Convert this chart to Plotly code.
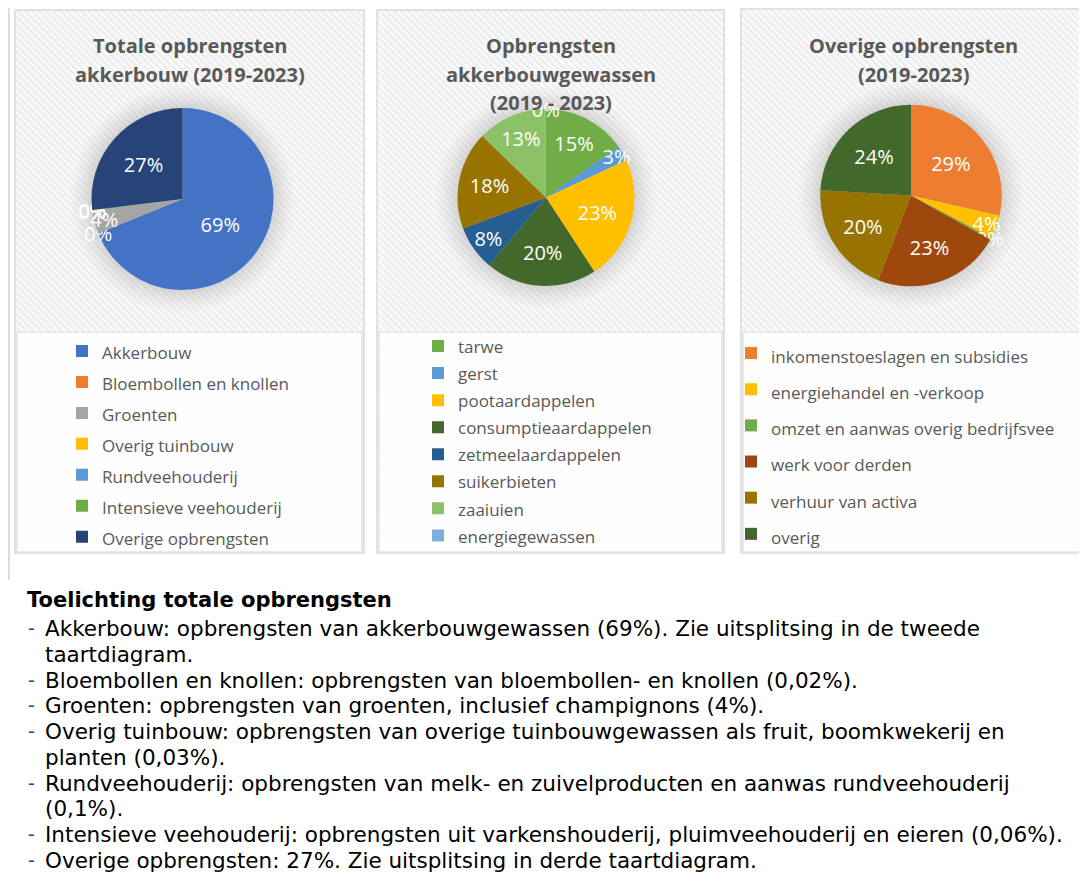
import base64
import plotly.graph_objects as go

# the page body has an 8px margin; the figure is shifted by it
OX, OY = 8, 8
W, H = 1087 - OX, 889 - OY

# ---------------- data ----------------
tot_labels = ["Akkerbouw", "Bloembollen en knollen", "Groenten", "Overig tuinbouw",
              "Rundveehouderij", "Intensieve veehouderij", "Overige opbrengsten"]
tot_values = [69, 0.02, 4, 0.03, 0.1, 0.06, 27]
tot_colors = ["#4472C4", "#ED7D31", "#A5A5A5", "#FFC000", "#5B9BD5", "#70AD47", "#264478"]

akk_labels = ["tarwe", "gerst", "pootaardappelen", "consumptieaardappelen",
              "zetmeelaardappelen", "suikerbieten", "zaaiuien", "energiegewassen"]
akk_values = [15.3, 2.8, 22.7, 20.3, 8.2, 17.9, 12.7, 0.1]
akk_colors = ["#70AD47", "#5B9BD5", "#FFC000", "#43682B", "#255E91", "#997300", "#8CC168", "#7CAFDD"]

ov_labels = ["inkomenstoeslagen en subsidies", "energiehandel en -verkoop",
             "omzet en aanwas overig bedrijfsvee", "werk voor derden",
             "verhuur van activa", "overig"]
ov_values = [28.6, 4.1, 0.4, 22.8, 20.0, 24.1]
ov_colors = ["#ED7D31", "#FFC000", "#70AD47", "#9E480E", "#997300", "#43682B"]

titles = [["Totale opbrengsten", "akkerbouw (2019-2023)"],
          ["Opbrengsten", "akkerbouwgewassen", "(2019 - 2023)"],
          ["Overige opbrengsten", "(2019-2023)"]]

note_title = "Toelichting totale opbrengsten"
note_lines = [
    ("- ", "Akkerbouw: opbrengsten van akkerbouwgewassen (69%). Zie uitsplitsing in de tweede"),
    ("", "taartdiagram."),
    ("- ", "Bloembollen en knollen: opbrengsten van bloembollen- en knollen (0,02%)."),
    ("- ", "Groenten: opbrengsten van groenten, inclusief champignons (4%)."),
    ("- ", "Overig tuinbouw: opbrengsten van overige tuinbouwgewassen als fruit, boomkwekerij en"),
    ("", "planten (0,03%)."),
    ("- ", "Rundveehouderij: opbrengsten van melk- en zuivelproducten en aanwas rundveehouderij"),
    ("", "(0,1%)."),
    ("- ", "Intensieve veehouderij: opbrengsten uit varkenshouderij, pluimveehouderij en eieren (0,06%)."),
    ("- ", "Overige opbrengsten: 27%. Zie uitsplitsing in derde taartdiagram."),
]

# ---------------- helpers ----------------
def fx(x):
    return (x - OX) / W

def fy(y):
    return 1 - (y - OY) / H

def dom(cx, cy, r):
    return dict(x=[fx(cx - r), fx(cx + r)], y=[fy(cy + r), fy(cy - r)])

def hatch(w, h, gx, gy, gr):
    svg = (f'<svg xmlns="http://www.w3.org/2000/svg" width="{w}" height="{h}" '
           f'viewBox="0 0 {w} {h}" preserveAspectRatio="none"><defs>'
           '<pattern id="p" width="5" height="5" patternUnits="userSpaceOnUse" '
           'patternTransform="rotate(-45)">'
           '<rect width="5" height="5" fill="#FBFBFB"/>'
           '<rect width="2.5" height="5" fill="#EDEDED"/></pattern>'
           '<radialGradient id="g">'
           f'<stop offset="{(gr - 4) / (gr + 24):.3f}" stop-color="#9A9A9A" stop-opacity="0.45"/>'
           '<stop offset="1" stop-color="#BBBBBB" stop-opacity="0"/></radialGradient></defs>'
           f'<rect width="{w}" height="{h}" fill="url(#p)"/>'
           f'<circle cx="{gx}" cy="{gy}" r="{gr + 24}" fill="url(#g)"/></svg>')
    return "data:image/svg+xml;base64," + base64.b64encode(svg.encode()).decode()

def leg_names(labels):
    return [f'<span style="font-size:17px">{l}</span>' for l in labels]

LABEL_FONT = dict(family="Open Sans", size=20, color="white")

fig = go.Figure()

pie_geo = [(182.5, 199, 91), (546, 197.5, 88.5), (911, 195.5, 90.8)]
pies = [
    (tot_labels, tot_values, tot_colors, "legend"),
    (akk_labels, akk_values, akk_colors, "legend2"),
    (ov_labels, ov_values, ov_colors, "legend3"),
]
for (labels, values, colors, lg), (cx, cy, r) in zip(pies, pie_geo):
    fig.add_trace(go.Pie(
        labels=leg_names(labels), values=values, sort=False, direction="clockwise",
        rotation=0, domain=dom(cx, cy, r), marker=dict(colors=colors, line=dict(width=0)),
        texttemplate="%{percent:.0%}", textposition="inside",
        insidetextorientation="horizontal", textfont=LABEL_FONT,
        hoverinfo="label+percent", legend=lg, showlegend=True,
    ))

# panels
panels = [(15, 364, 10), (377, 724, 10), (741, 1100, 9)]
shapes = []
images = []
for (x0, x1, y0), (cx, cy, r) in zip(panels, pie_geo):
    y1 = 553
    images.append(dict(source=hatch(int(x1 - x0), int(y1 - y0), cx - x0, cy - y0, r),
                       xref="paper", yref="paper",
                       x=fx(x0), y=fy(y0), sizex=(x1 - x0) / W, sizey=(y1 - y0) / H,
                       xanchor="left", yanchor="top", sizing="stretch", layer="below"))
    shapes.append(dict(type="rect", xref="paper", yref="paper", x0=fx(x0), x1=fx(x1),
                       y0=fy(y1), y1=fy(y0), line=dict(color="#D9D9D9", width=1.5),
                       fillcolor="rgba(0,0,0,0)", layer="below"))
    shapes.append(dict(type="rect", xref="paper", yref="paper", x0=fx(x0 + 2), x1=fx(x1 - 2),
                       y0=fy(y1 - 1), y1=fy(332), line=dict(color="#E3E3E3", width=1.5),
                       fillcolor="rgba(255,255,255,0.85)", layer="below"))
# page border line on the left
shapes.append(dict(type="line", xref="paper", yref="paper", x0=fx(9), x1=fx(9),
                   y0=fy(580), y1=fy(OY), line=dict(color="#DDDDDD", width=2), layer="below"))

annotations = []
title_pos = [(190, [45, 75]), (551, [45, 74, 103]), (914, [45, 75])]
for (cx, ys), lines in zip(title_pos, titles):
    for yy, t in zip(ys, lines):
        annotations.append(dict(text=f"<b>{t}</b>", xref="paper", yref="paper", x=fx(cx), y=fy(yy),
                                xanchor="center", yanchor="middle", showarrow=False,
                                font=dict(family="Open Sans", size=20, color="#595959")))

annotations.append(dict(text=f"<b>{note_title}</b>", xref="paper", yref="paper", x=fx(25), y=fy(600),
                        xanchor="left", yanchor="middle", showarrow=False,
                        font=dict(family="DejaVu Sans", size=21, color="black")))
line_ys = [628, 654, 680, 705, 731, 757, 783, 808, 834, 860]
for yy, (dash, txt) in zip(line_ys, note_lines):
    if dash:
        annotations.append(dict(text="-", xref="paper", yref="paper", x=fx(26), y=fy(yy),
                                xanchor="left", yanchor="middle", showarrow=False,
                                font=dict(family="DejaVu Sans", size=19, color="#444444")))
    annotations.append(dict(text=txt, xref="paper", yref="paper", x=fx(43), y=fy(yy),
                            xanchor="left", yanchor="middle", showarrow=False,
                            font=dict(family="DejaVu Sans", size=21.5, color="black")))

def legend(x, ytop, fs):
    return dict(x=fx(x), y=fy(ytop), xanchor="left", yanchor="top", orientation="v",
                bgcolor="rgba(0,0,0,0)", borderwidth=0, tracegroupgap=0,
                font=dict(family="Open Sans", size=fs, color="#595959"))

fig.update_layout(
    width=W, height=H, margin=dict(l=0, r=0, t=0, b=0),
    paper_bgcolor="white", plot_bgcolor="white",
    shapes=shapes, images=images, annotations=annotations,
    uniformtext=dict(minsize=20, mode="show"),
    legend=legend(62, 330.5, 21.5),
    legend2=legend(418, 327.5, 18.5),
    legend3=legend(731, 330, 25.5),
    hovermode=False,
)

fig.write_html("out.html")
